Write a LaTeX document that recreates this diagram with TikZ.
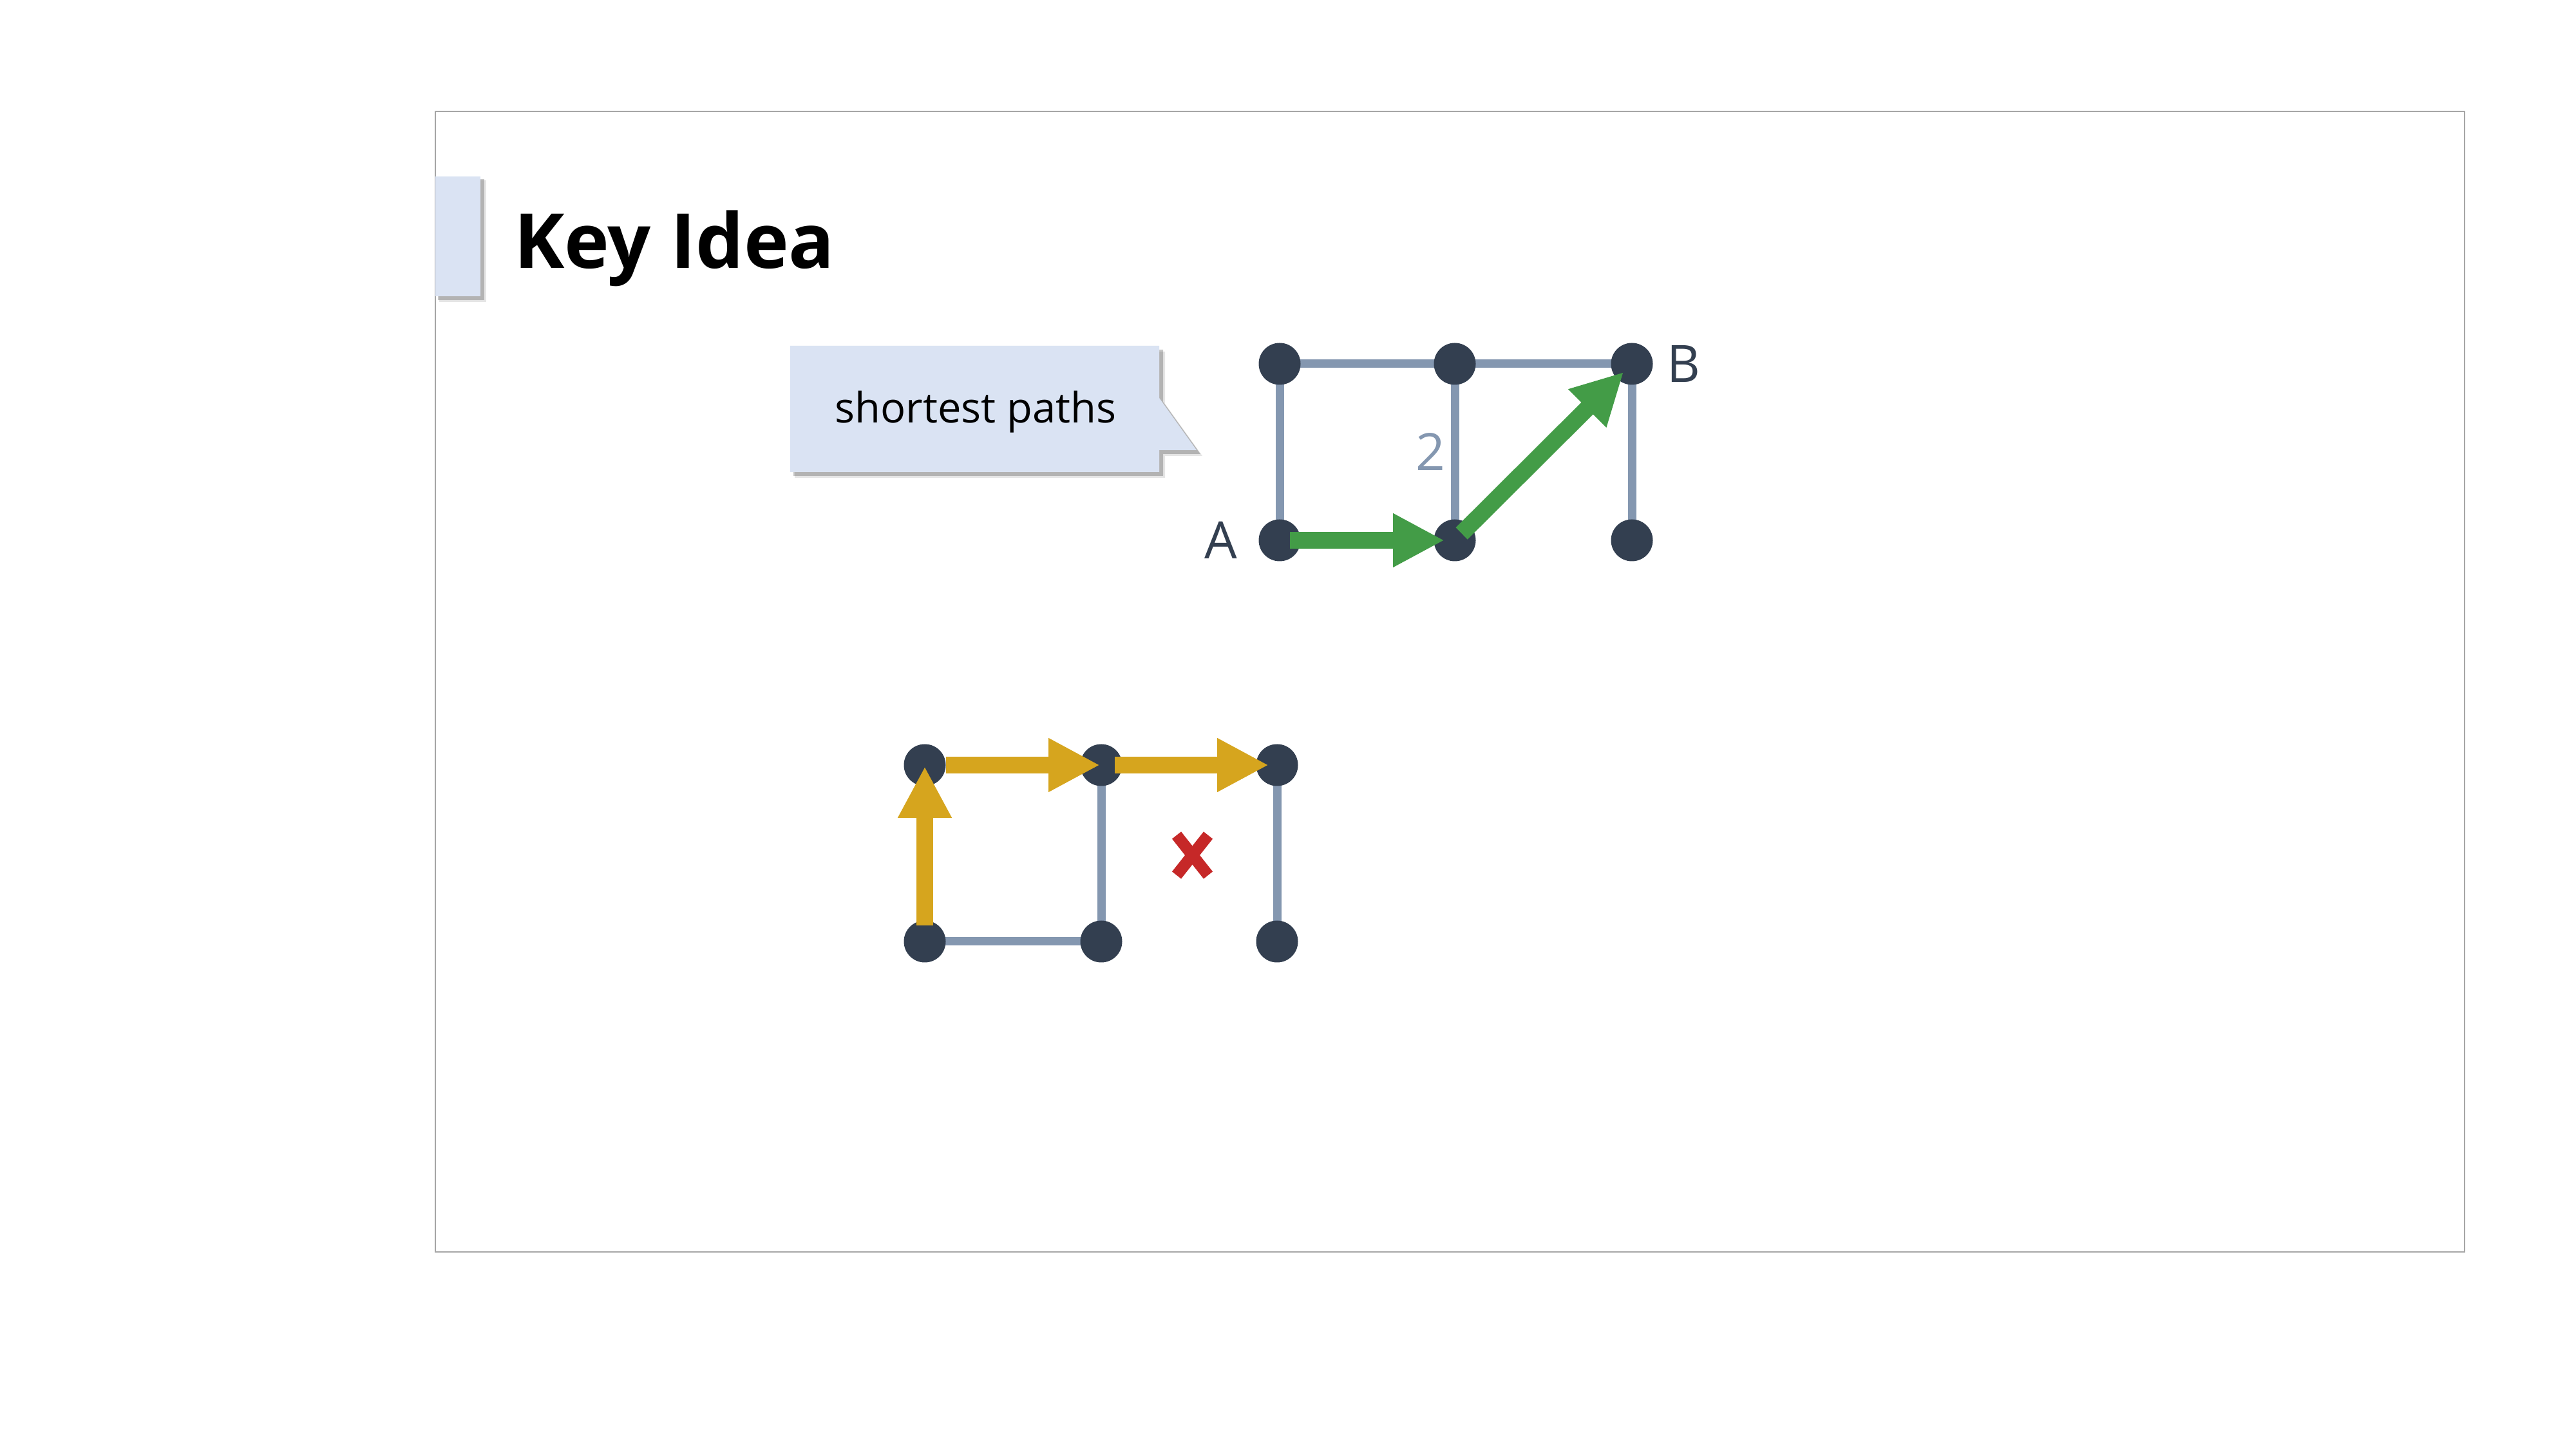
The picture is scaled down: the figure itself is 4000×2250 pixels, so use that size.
\documentclass[tikz,border=0pt]{standalone}
\usepackage{fontspec}
\setmainfont{Open Sans}
\usetikzlibrary{arrows.meta,backgrounds}
\definecolor{tabfill}{HTML}{DAE3F3}
\definecolor{edgegray}{HTML}{8497B0}
\definecolor{dotcol}{HTML}{333F50}
\definecolor{pathgreen}{HTML}{439C47}
\definecolor{pathyellow}{HTML}{D6A51E}
\definecolor{crossred}{HTML}{C62828}
\definecolor{framegray}{HTML}{A6A6A6}
\tikzset{
  dot/.style={circle,fill=dotcol,draw=none,minimum size=6.5pt,inner sep=0pt},
  gedge/.style={draw=edgegray,line width=1.3pt},
  fatarrow/.style={line width=2.6pt,-{Triangle[length=8pt,width=7.8pt]}},
  greenarrow/.style={fatarrow,draw=pathgreen,fill=pathgreen},
  yellowarrow/.style={fatarrow,draw=pathyellow,fill=pathyellow},
  lbl/.style={inner sep=0pt,text=dotcol,font=\fontsize{8}{9.6}\selectfont},
  shadowA/.style={fill=black,opacity=0.22},
  shadowB/.style={fill=black,opacity=0.10}
}
\begin{document}
\begin{tikzpicture}[x=0.1pt,y=-0.1pt]
\useasboundingbox (0,0) rectangle (4000,2250);
% frame
\draw[framegray,line width=0.2pt] (676,173) rectangle (3827,1944);
% title tab
\fill[shadowB] (682,280) rectangle (755,469);
\fill[shadowA] (680,278) rectangle (752,466);
\fill[tabfill] (676,274) rectangle (746,460);
\node[anchor=base west,inner sep=0pt,font=\bfseries\fontsize{11.8}{14}\selectfont] (title) at (796,417) {Key Idea};
% callout
\fill[shadowB] (1234,546) -- (1809,546) -- (1809,627) -- (1867,708) -- (1809,708) -- (1809,742) -- (1234,742) -- cycle;
\fill[shadowA] (1232,543) -- (1806,543) -- (1806,624) -- (1864,705) -- (1806,705) -- (1806,739) -- (1232,739) -- cycle;
\fill[tabfill] (1227,537) -- (1800,537) -- (1800,618) -- (1858,699) -- (1800,699) -- (1800,733) -- (1227,733) -- cycle;
\node[anchor=base,inner sep=0pt,font=\fontsize{6.5}{7.8}\selectfont] (callout) at (1515,657) {shortest paths};
% top graph nodes
\node[dot] (t1) at (1987,565) {};
\node[dot] (t2) at (2259,565) {};
\node[dot] (tB) at (2534,565) {};
\node[dot] (tA) at (1987,839) {};
\node[dot] (tM) at (2259,839) {};
\node[dot] (t6) at (2534,839) {};
\node[lbl] (labA) at (1896,839) {A};
\node[lbl] (labB) at (2614,565) {B};
\node[lbl,text=edgegray] (lab2) at (2221,702) {2};
% bottom graph nodes
\node[dot] (bTL) at (1436,1188) {};
\node[dot] (bTM) at (1710,1188) {};
\node[dot] (bTR) at (1983,1188) {};
\node[dot] (bBL) at (1436,1462) {};
\node[dot] (bBM) at (1710,1462) {};
\node[dot] (bBR) at (1983,1462) {};
% gray edges
\begin{pgfonlayer}{background}
\draw[gedge] (t1.center) -- (t2.center);
\draw[gedge] (t2.center) -- (tB.center);
\draw[gedge] (t1.center) -- (tA.center);
\draw[gedge] (t2.center) -- (tM.center);
\draw[gedge] (tB.center) -- (t6.center);
\draw[gedge] (bBL.center) -- (bBM.center);
\draw[gedge] (bTM.center) -- (bBM.center);
\draw[gedge] (bTR.center) -- (bBR.center);
\end{pgfonlayer}
% path arrows
\draw[greenarrow,shorten <=1.6pt,shorten >=1.6pt] (tA.center) -- (tM.center);
\draw[greenarrow,shorten <=1.5pt,shorten >=1.8pt] (tM.center) -- (tB.center);
\draw[yellowarrow,shorten <=2.5pt,shorten >=0.2pt] (bBL.center) -- (bTL.center);
\draw[yellowarrow,shorten <=3.3pt,shorten >=0.2pt] (bTL.center) -- (bTM.center);
\draw[yellowarrow,shorten <=2.1pt,shorten >=1.3pt] (bTM.center) -- (bTR.center);
% red cross
\draw[crossred,line width=1.8pt] (1827,1297) -- (1876,1359);
\draw[crossred,line width=1.8pt] (1876,1297) -- (1827,1359);
\end{tikzpicture}
\end{document}
